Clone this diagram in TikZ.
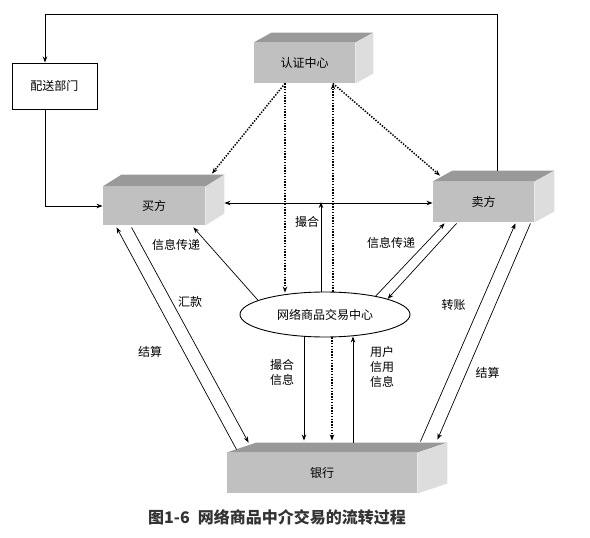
\documentclass[tikz,border=0pt]{standalone}
\usepackage{fontspec}
\setmainfont{Noto Sans CJK SC}
\usetikzlibrary{arrows.meta,shapes.geometric}
\definecolor{facegray}{HTML}{C0C0C0}
\definecolor{topgray}{HTML}{999999}
\definecolor{sidegray}{HTML}{DDDDDD}
\definecolor{captiongray}{HTML}{333333}
\newcommand{\slab}[3]{%
  \fill[topgray] (#1.north west) -- ++(#2,-#3) -- ([shift={(#2,-#3)}]#1.north east) -- (#1.north east) -- cycle;
  \fill[sidegray] (#1.north east) -- ++(#2,-#3) -- ([shift={(#2,-#3)}]#1.south east) -- (#1.south east) -- cycle;}

\begin{document}
\begin{tikzpicture}[x=1pt, y=-1pt, >={Stealth[length=6pt,width=4.5pt]}, line width=0.9pt,
  font=\fontsize{12}{15}\selectfont,
  cube/.style={fill=facegray, inner sep=0pt},
  plainbox/.style={draw, line width=1pt, inner sep=0pt, minimum width=85pt, minimum height=46pt},
  hub/.style={draw, ellipse, inner sep=0pt, minimum width=170pt, minimum height=45pt},
  secure/.style={line width=1.5pt, dash pattern=on 1.4pt off 1.4pt},
  flow/.style={line width=0.7pt}]
  \useasboundingbox (0,0) rectangle (590,538);

  \node[cube, minimum width=101pt, minimum height=40pt] (ca) at (304.5,63) {认证中心};
  \slab{ca}{18}{10}
  \node[cube, minimum width=102pt, minimum height=38pt] (buy) at (154,206) {买方};
  \slab{buy}{19}{12}
  \node[cube, minimum width=101pt, minimum height=40pt] (sell) at (483.5,202) {卖方};
  \slab{sell}{20}{11}
  \node[cube, minimum width=190pt, minimum height=40pt] (bank) at (322,473) {银行};
  \slab{bank}{30}{10}
  \node[plainbox] (dist) at (54.5,86) {配送部门};
  \node[hub] (ell) at (325,314.5) {网络商品交易中心};

  \draw[->] ([xshift=13.5pt,yshift=11pt]sell.north) |- ([xshift=-9.5pt,yshift=48pt]dist.north) -- ([xshift=-9.5pt]dist.north);
  \draw[->] ([xshift=-9.5pt]dist.south) |- (buy.west);
  \draw[<->] ([xshift=19pt,yshift=3pt]buy.east) -- ([yshift=-1pt]sell.west);

  \draw[secure,->] ([xshift=-19.5pt]ca.south) -- ([xshift=58pt,yshift=13pt]buy.north);
  \draw[secure,->] ([xshift=-19.5pt]ca.south) -- ([xshift=-40pt,yshift=-1pt]ell.north);
  \draw[secure,->] ([xshift=8pt]ell.north) -- ([xshift=28.5pt]ca.south);
  \draw[secure,->] ([xshift=28.5pt]ca.south) -- ([xshift=-43.5pt,yshift=6pt]sell.north);

  \coordinate (mtop) at ([xshift=-4pt]ell.north);
  \draw[->] (mtop) -- (mtop |- sell.west);
  \draw[->] ([xshift=-21pt]ell.south) -- ([xshift=-18pt,yshift=12pt]bank.north);
  \draw[secure,->] ([xshift=7pt]ell.south) -- ([xshift=10pt,yshift=12pt]bank.north);
  \draw[->] ([xshift=31pt,yshift=10pt]bank.north) -- ([xshift=28pt,yshift=1pt]ell.south);

  \draw[flow,->] ([xshift=10pt,yshift=3pt]bank.north west) -- ([xshift=14pt,yshift=-2pt]buy.south west);
  \draw[flow,->] ([xshift=29pt,yshift=-2pt]buy.south west) -- ([xshift=22pt,yshift=10pt]bank.north west);
  \draw[flow,->] (ell.168) -- ([xshift=-12pt,yshift=-2pt]buy.south east);
  \draw[flow,->] (ell.20) -- ([xshift=12pt,yshift=-1pt]sell.south west);
  \draw[flow,->] ([xshift=24pt,yshift=-1pt]sell.south west) -- (ell.14);
  \draw[flow,->] ([xshift=3pt,yshift=11pt]bank.north east) -- ([xshift=-19pt,yshift=-1pt]sell.south east);
  \draw[flow,->] ([xshift=-4pt,yshift=-1pt]sell.south east) -- ([xshift=20pt,yshift=13pt]bank.north east);

  \node (infoL) at (176,245) {信息传递};
  \node (remit) at (190,302) {汇款};
  \node (settleL) at (150,352) {结算};
  \node (match) at (307,222) {撮合};
  \node (infoR) at (391,243) {信息传递};
  \node (transfer) at (453.5,305) {转账};
  \node (settleR) at (487.5,373) {结算};
  \node[align=center] (matchinfo) at (282,372) {撮合\\信息};
  \node[align=center] (credit) at (382,367) {用户\\信用\\信息};

  \node[font=\fontsize{16}{19}\selectfont\bfseries, text=captiongray] (cap) at (277,517) {图1-6\enspace 网络商品中介交易的流转过程};
\end{tikzpicture}
\end{document}
